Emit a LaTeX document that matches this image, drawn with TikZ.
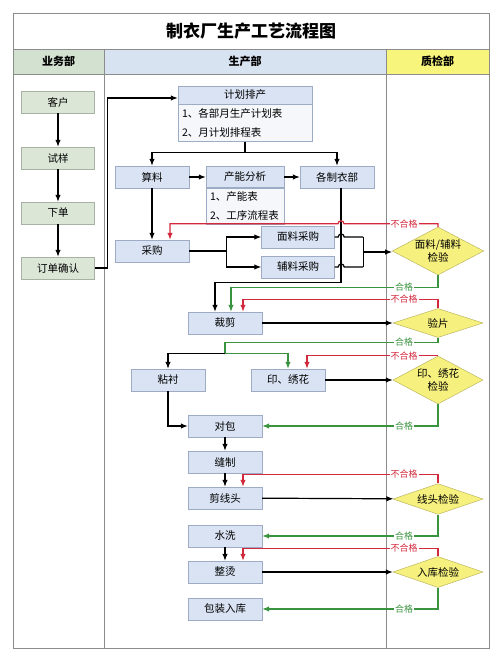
\documentclass[tikz,border=0pt]{standalone}
\usepackage{fontspec}
\setmainfont{Noto Sans CJK SC}
\usetikzlibrary{arrows.meta,shapes.geometric,positioning}

\definecolor{framegray}{HTML}{8C8C8C}
\definecolor{hdgreen}{HTML}{D3E1D0}
\definecolor{hdblue}{HTML}{D8E3F2}
\definecolor{hdyellow}{HTML}{F8F57C}
\definecolor{ywfill}{HTML}{DBE6D7}
\definecolor{ywline}{HTML}{A7B2A4}
\definecolor{scfill}{HTML}{D9E3F3}
\definecolor{scline}{HTML}{9EABC4}
\definecolor{listfill}{HTML}{F5F7FA}
\definecolor{jyfill}{HTML}{F6F07E}
\definecolor{jyline}{HTML}{B4AC55}
\definecolor{nored}{HTML}{D22A3C}
\definecolor{okgreen}{HTML}{3A933F}

\begin{document}
\begin{tikzpicture}[x=1pt,y=-1pt,
    every node/.style={font=\fontsize{10.5}{12}\selectfont},
    frame/.style={draw=framegray, line width=0.8pt},
    hd/.style={font=\bfseries\fontsize{11}{13}\selectfont},
    ywbox/.style={draw=ywline, fill=ywfill, minimum width=73pt, minimum height=22pt, inner sep=0pt},
    scbox/.style={draw=scline, fill=scfill, minimum width=74pt, minimum height=22pt, inner sep=0pt},
    listbox/.style={draw=scline, fill=listfill, align=left, inner sep=4pt,
                    font=\fontsize{10.5}{19}\selectfont},
    jybox/.style={diamond, aspect=2, draw=jyline, fill=jyfill, inner sep=0pt,
                  minimum width=90pt, align=center, font=\fontsize{10.5}{13}\selectfont},
    lbl/.style={fill=white, inner sep=1pt, font=\fontsize{9}{10}\selectfont},
    line/.style={draw, line width=1.2pt},
    arr/.style={line, -{Latex[length=7pt,width=5.5pt]}},
    rarr/.style={arr, draw=nored},
    garr/.style={arr, draw=okgreen}
]
\fill[white] (0,0) rectangle (502,661);
\useasboundingbox (0,0) rectangle (502,661);

% frame and lanes
\fill[hdgreen] (13,49) rectangle (104,74);
\fill[hdblue] (104,49) rectangle (386,74);
\fill[hdyellow] (386,49) rectangle (489,74);
\draw[frame] (13,13) rectangle (489,648);
\draw[frame] (13,49) -- (489,49) (13,74) -- (489,74)
             (104,49) -- (104,648) (386,49) -- (386,648);
\node[font=\bfseries\fontsize{17}{20}\selectfont] (title) at (251,31) {制衣厂生产工艺流程图};
\node[hd] (hyw) at (58.5,61.5) {业务部};
\node[hd] (hsc) at (245,61.5) {生产部};
\node[hd] (hzj) at (437.5,61.5) {质检部};

% 业务部
\node[ywbox] (kh) at (58,102) {客户};
\node[ywbox] (sy) at (58,158) {试样};
\node[ywbox] (xd) at (58,213) {下单};
\node[ywbox] (ddqr) at (58,268) {订单确认};

% 生产部
\node[scbox, minimum width=134pt, minimum height=18pt] (jhpc) at (245,95) {计划排产};
\node[listbox, text width=126pt, minimum height=37pt, below=0pt of jhpc] (jhpcl)
    {1、各部月生产计划表\\2、月计划排程表};
\node[scbox] (sl) at (152,177) {算料};
\node[scbox, minimum width=78pt, minimum height=21pt] (cnfx) at (245,177) {产能分析};
\node[listbox, text width=70pt, minimum height=34pt, below=0pt of cnfx] (cnfxl)
    {1、产能表\\2、工序流程表};
\node[scbox] (gzyb) at (337,177) {各制衣部};
\node[scbox] (cg) at (152,251) {采购};
\node[scbox, minimum width=73pt] (mlcg) at (298,237) {面料采购};
\node[scbox, minimum width=73pt] (flcg) at (298,267) {辅料采购};
\node[scbox] (cj) at (225,323) {裁剪};
\node[scbox] (zc) at (168,380) {粘衬};
\node[scbox] (yxh) at (288,380) {印、绣花};
\node[scbox] (db) at (225,426) {对包};
\node[scbox] (fz) at (225,462) {缝制};
\node[scbox] (jxt) at (225,498) {剪线头};
\node[scbox] (sx) at (225,536) {水洗};
\node[scbox] (zt) at (225,572) {整烫};
\node[scbox] (bzrk) at (225,609) {包装入库};

% 质检部
\node[jybox, minimum height=48pt] (mfjy) at (438,251) {面料/辅料\\检验};
\node[jybox, minimum height=29pt] (ypjy) at (438,323) {验片};
\node[jybox, minimum height=48pt] (yxjy) at (438,380) {印、绣花\\检验};
\node[jybox, minimum height=30pt] (xtjy) at (438,499) {线头检验};
\node[jybox, minimum height=31pt] (rkjy) at (438,572) {入库检验};

% flow
\path[arr] (kh) edge (sy) (sy) edge (xd) (xd) edge (ddqr);
\draw[arr] (ddqr.east) -- ++(13,0) |- ([yshift=-3pt]jhpc.west);
\draw[arr] (jhpcl.south) -- ++(0,11) coordinate (jhfz) -| (sl.north);
\draw[arr] (jhfz) -| (gzyb.north);
\path[arr] (sl) edge (cnfx) (cnfx) edge (gzyb) (sl) edge (cg);
\draw[arr] ([xshift=4pt]gzyb.south) -- ++(0,94) -| ([xshift=-10pt]cj.north);
\draw[arr] (cg.east) -- ++(37,0) coordinate (cgfz) |- (mlcg.west);
\draw[arr] (cgfz) |- (flcg.west);
\draw[line] (mlcg.east) -- ++(3.5,0) arc[start angle=180,end angle=0,radius=3pt] -- ++(19,0) coordinate (hb1);
\draw[line] (flcg.east) -- ++(3.5,0) arc[start angle=180,end angle=0,radius=3pt] -- ++(19,0) coordinate (hb2);
\draw[line] (hb1) -- coordinate (hbm) (hb2);
\draw[arr] (hbm) -- (hbm -| mfjy.west);
\draw[rarr] (mfjy.north) -- ++(0,-3) coordinate (rb1) -- ([xshift=7pt]gzyb.south |- rb1)
    arc[start angle=0,end angle=180,radius=3pt] -| ([xshift=18pt]cg.north);
\draw[garr] (mfjy.south) -- ++(0,12) -| ([xshift=6pt]cj.north);
\draw[rarr] (ypjy.north) -- ++(0,-9) -| ([xshift=18pt]cj.north);
\path[arr] (cj) edge (ypjy);
\draw[okgreen, line width=1.2pt] (ypjy.south) -- ++(0,5) -| ([yshift=-19pt]cj.south) coordinate (ypfz);
\draw[garr] (ypfz) -| (yxh.north);
\draw[arr] (ypfz) -| (zc.north);
\draw[rarr] (yxjy.north) -| ([xshift=19pt]yxh.north);
\path[arr] (yxh) edge (yxjy);
\draw[arr] (zc.south) |- (db.west);
\draw[garr] (yxjy.south) |- (db.east);
\path[arr] (db) edge (fz) (fz) edge (jxt);
\draw[rarr] (xtjy.north) -- ++(0,-9) -| ([xshift=18pt]jxt.north);
\path[arr] (jxt) edge (xtjy);
\draw[garr] (xtjy.south) |- (sx.east);
\path[arr] (sx) edge (zt);
\draw[rarr] (rkjy.north) -- ++(0,-8) -| ([xshift=18pt]zt.north);
\path[arr] (zt) edge (rkjy);
\draw[garr] (rkjy.south) |- (bzrk.east);

% 合格 / 不合格
\foreach \y/\t/\c [count=\i] in {224/不合格/nored, 287/合格/okgreen, 299.5/不合格/nored,
    342.5/合格/okgreen, 356/不合格/nored, 426/合格/okgreen, 474.5/不合格/nored,
    536/合格/okgreen, 548.5/不合格/nored, 609/合格/okgreen}
  \node[lbl, text=\c] (lb\i) at (404,\y) {\t};
\end{tikzpicture}
\end{document}
